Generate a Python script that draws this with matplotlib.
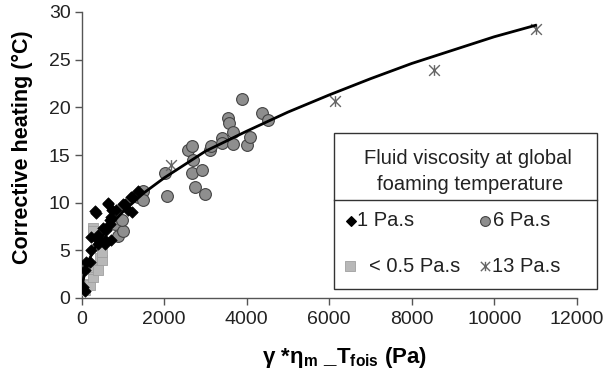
import matplotlib
matplotlib.use("Agg")
import matplotlib.pyplot as plt
from matplotlib.path import Path
from matplotlib.patches import Rectangle

plt.rcParams['font.family'] = ['Liberation Sans', 'DejaVu Sans']

# ---- data ----
# 1 Pa.s (black diamonds)
d1_x = [80, 32, 73, 112, 200, 233, 233, 395, 400, 395, 558, 566, 718, 596, 679, 525,
        686, 727, 718, 839, 347, 325, 637, 646, 1042, 1010, 1123, 1212, 1203, 1212, 1365]
d1_y = [0.7, 1.2, 2.9, 3.8, 3.8, 5.0, 6.4, 5.7, 6.1, 6.6, 6.1, 5.7, 6.1, 7.1, 7.8, 7.3,
        8.2, 9.2, 8.5, 9.2, 8.9, 9.1, 9.9, 10.0, 9.9, 9.9, 9.2, 9.0, 10.6, 10.6, 11.2]
# < 0.5 Pa.s (light grey squares)
sq_x = [80, 160, 194, 277, 284, 153, 395, 444, 485, 480, 285, 277]
sq_y = [0.8, 1.5, 1.4, 2.2, 3.0, 3.3, 2.9, 4.2, 4.0, 4.8, 7.3, 7.0]
# 6 Pa.s (grey circles)
c6_x = [797, 887, 1010, 970, 1365, 1494, 1494, 2019, 2061, 2585, 2667, 2707, 2667, 2925,
        2747, 2990, 3110, 3127, 3394, 3394, 3539, 3578, 3677, 3677, 3877, 4000, 4080,
        4378, 4517]
c6_y = [7.8, 6.5, 7.0, 8.2, 10.6, 11.2, 10.3, 13.1, 10.7, 15.5, 15.9, 14.5, 13.1, 13.4,
        11.6, 10.9, 15.5, 15.9, 16.8, 16.3, 18.9, 18.4, 17.4, 16.2, 20.9, 16.1, 16.9,
        19.4, 18.7]
# 13 Pa.s (asterisks)
s13_x = [2157, 6140, 8548, 11013]
s13_y = [13.9, 20.7, 23.9, 28.2]
# trend curve
curve_x = [20, 50, 100, 200, 300, 500, 750, 1000, 1500, 2000, 3000, 4000, 5000, 6000,
           7000, 8000, 9000, 10000, 11000]
curve_y = [1.4, 2.15, 3.0, 4.2, 5.1, 6.5, 7.9, 9.05, 11.0, 12.6, 15.4, 17.5, 19.5, 21.3,
           23.0, 24.6, 26.0, 27.4, 28.6]

xticks = [0, 2000, 4000, 6000, 8000, 10000, 12000]
yticks = [0, 5, 10, 15, 20, 25, 30]

W, H = 607, 378
fig = plt.figure(figsize=(W / 100, H / 100), dpi=100)
ax = fig.add_axes([81.7 / W, 1 - 298 / H, (576.7 - 81.7) / W, (298 - 12) / H])

star = Path([(0, -1), (0, 1), (-1, -1), (1, 1), (-1, 1), (1, -1)],
            [Path.MOVETO, Path.LINETO, Path.MOVETO, Path.LINETO, Path.MOVETO, Path.LINETO])

ax.scatter(c6_x, c6_y, s=72, marker='o', facecolor='#8e8e8e', edgecolor='#444444',
           linewidths=0.8, zorder=3)
ax.scatter(sq_x, sq_y, s=50, marker='s', facecolor='#b8b8b8', edgecolor='#a0a0a0',
           linewidths=0.6, zorder=3)
ax.scatter(d1_x, d1_y, s=34, marker='D', facecolor='black', edgecolor='black',
           linewidths=0.5, zorder=4)
ax.scatter(s13_x, s13_y, s=60, marker=star, color='#666666', linewidths=1.0, zorder=4)
ax.plot(curve_x, curve_y, color='black', lw=2.0, zorder=5)

ax.set_xlim(0, 12000)
ax.set_ylim(0, 30)
ax.set_xticks(xticks)
ax.set_yticks(yticks)
ax.set_xticklabels([str(t) for t in xticks])
ax.set_yticklabels([str(t) for t in yticks])
for s in ['top', 'right']:
    ax.spines[s].set_visible(False)
for s in ['left', 'bottom']:
    ax.spines[s].set_color('#555555')
    ax.spines[s].set_linewidth(1.0)
ax.tick_params(axis='both', direction='out', length=5, width=1.0, color='#555555',
               labelsize=14, labelcolor='#222222')
ax.tick_params(axis='x', pad=4)
ax.tick_params(axis='y', pad=3)

fig.text(22 / W, 1 - 147 / H, 'Corrective heating (°C)', rotation=90, ha='center',
         va='center', fontsize=15.5, fontweight='bold', color='black')
fig.text(345 / W, 1 - 357 / H, 'γ *η$_\\mathregular{m}$ _T$_\\mathregular{fois}$ (Pa)',
         ha='center', va='center', fontsize=16, fontweight='bold', color='black')

# ---- legend drawn in pixel coordinates ----
ov = fig.add_axes([0, 0, 1, 1], facecolor='none')
ov.set_xlim(0, W)
ov.set_ylim(H, 0)
ov.axis('off')
ov.add_patch(Rectangle((334, 133), 263, 156, facecolor='white', edgecolor='#333333',
                       lw=1.0))
ov.plot([334, 597], [200, 200], color='#333333', lw=1.0)
fs = 14.5
ov.text(468, 158, 'Fluid viscosity at global', ha='center', va='center', fontsize=fs,
        color='#222222')
ov.text(470, 185, 'foaming temperature', ha='center', va='center', fontsize=fs,
        color='#222222')
ov.scatter([351], [221], s=24, marker='D', color='black')
ov.text(357, 221, '1 Pa.s', ha='left', va='center', fontsize=fs, color='#222222')
ov.scatter([485], [221], s=50, marker='o', facecolor='#8e8e8e', edgecolor='#444444',
           linewidths=0.8)
ov.text(493, 221, '6 Pa.s', ha='left', va='center', fontsize=fs, color='#222222')
ov.scatter([350], [266], s=42, marker='s', facecolor='#b8b8b8', edgecolor='#a0a0a0',
           linewidths=0.6)
ov.text(369, 266, '< 0.5 Pa.s', ha='left', va='center', fontsize=fs, color='#222222')
ov.scatter([485], [266], s=45, marker=star, color='#666666', linewidths=1.0)
ov.text(492, 266, '13 Pa.s', ha='left', va='center', fontsize=fs, color='#222222')

fig.savefig('out.png', dpi=100)
